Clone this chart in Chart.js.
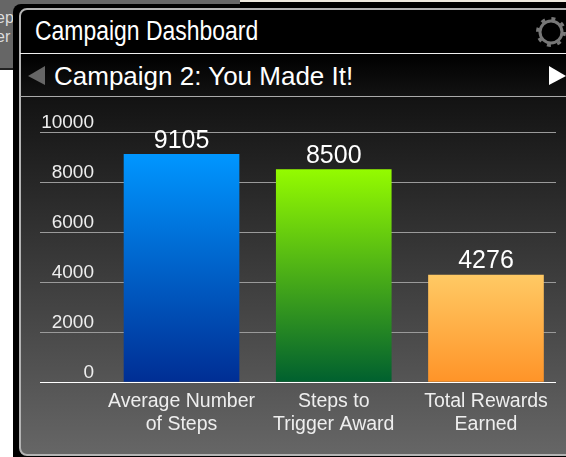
<!DOCTYPE html>
<html>
<head>
<meta charset="utf-8">
<style>
  html, body { margin: 0; padding: 0; background: #fff; }
  #page { position: relative; width: 566px; height: 457px; overflow: hidden; font-family: "Liberation Sans", sans-serif; color: #fff; }
  #page div, #page svg, #page canvas { position: absolute; }
  #backPanel { left: 0; top: 0; width: 240px; height: 68px; background: #666; border-bottom: 2px solid #222; }
  #backPanel span { position: absolute; left: -4px; font-size: 16px; color: #ddd; }
  #topStrip { left: 240px; top: 0; width: 326px; height: 8px; background: #000; border-top: 2px solid #f0ebe0; box-sizing: border-box; }
  #frame { left: 13px; top: 4px; width: 560px; height: 460px; background: #000; border-radius: 8px 0 0 0; }
  #panel { left: 19px; top: 8px; width: 560px; height: 448px; border: 2px solid #b4b4b4; border-radius: 8px; box-sizing: border-box; overflow: hidden;
    background: linear-gradient(#000 0, #000 44px, #131313 88px, #666 100%); }
  #titleBar { left: 20px; top: 53px; width: 546px; height: 1px; background: #eee; }
  #subBar { left: 20px; top: 96px; width: 546px; height: 1px; background: #aaa; }
  #title { left: 35px; top: 15px; font-size: 27px; line-height: 32px; white-space: nowrap; transform: scaleX(0.85); transform-origin: left center; }
  #subtitle { left: 54px; top: 59px; font-size: 26px; line-height: 34px; white-space: nowrap; }
</style>
</head>
<body>
<div id="page">
  <div id="backPanel"><span style="top:9px">ep</span><span style="top:28px">er</span></div>
  <div id="topStrip"></div>
  <div id="frame"></div>
  <div id="panel"></div>
  <div id="title">Campaign Dashboard</div>
  <div id="titleBar"></div>
  <div id="subtitle">Campaign 2: You Made It!</div>
  <div id="subBar"></div>
  <svg style="left:0;top:0" width="566" height="457">
    <polygon points="28,76 45,66 45,85" fill="#666"/>
    <polygon points="549,66 566,76 549,85" fill="#fff"/>
    <g stroke="#777" fill="none">
      <circle cx="551" cy="32" r="11" stroke-width="3"/>
      <circle cx="551" cy="32" r="13.5" stroke-width="3" stroke-dasharray="4 6.6"/>
    </g>
  </svg>
  <canvas id="myChart" width="566" height="457" style="left:0;top:0"></canvas>
</div>
<script src="https://cdn.jsdelivr.net/npm/chart.js@4"></script>
<script>
const categories = [['Average Number', 'of Steps'], ['Steps to', 'Trigger Award'], ['Total Rewards', 'Earned']];
const values = [9105, 8500, 4276];
const topColors = ['#0096ff', '#94fb00', '#ffc964'];
const bottomColors = ['#002e94', '#00602f', '#ff9428'];
const yTicks = [0, 2000, 4000, 6000, 8000, 10000];

// bar gradient runs from the top of each bar down to the axis
const barFill = (context) => {
  const chart = context.chart;
  const i = context.dataIndex;
  if (!chart.chartArea) {
    return topColors[i];
  }
  const yScale = chart.scales.y;
  const g = chart.ctx.createLinearGradient(0, yScale.getPixelForValue(values[i]), 0, yScale.getPixelForValue(0));
  g.addColorStop(0, topColors[i]);
  g.addColorStop(1, bottomColors[i]);
  return g;
};

const valueLabels = {
  id: 'valueLabels',
  afterDatasetsDraw(chart) {
    const ctx = chart.ctx;
    ctx.save();
    ctx.fillStyle = '#fff';
    ctx.font = '25px "Liberation Sans"';
    ctx.textAlign = 'center';
    ctx.textBaseline = 'bottom';
    chart.getDatasetMeta(0).data.forEach((bar, i) => {
      ctx.fillText(values[i], bar.x, bar.y - 1);
    });
    ctx.restore();
  }
};

const gridColor = (context) => (context.tick && context.tick.value === 0 ? '#fff' : '#9a9a9a');

new Chart(document.getElementById('myChart'), {
  type: 'bar',
  data: {
    datasets: [{
      data: values.map((v, i) => ({ x: i, y: v })),
      backgroundColor: barFill,
      barThickness: 115,
      borderWidth: 0
    }]
  },
  options: {
    responsive: false,
    animation: false,
    layout: { padding: { left: 40, right: 10, top: 132, bottom: 0 } },
    plugins: { legend: { display: false }, tooltip: { enabled: false } },
    scales: {
      x: {
        type: 'linear',
        offset: false,
        min: -0.575,
        max: 2.46,
        afterFit: (scale) => { scale.height = 75; },
        grid: { display: false },
        border: { display: false },
        ticks: {
          stepSize: 1,
          includeBounds: false,
          maxRotation: 0,
          autoSkip: false,
          color: '#eee',
          padding: 0,
          font: { family: 'Liberation Sans', size: 19.5, lineHeight: 1.18 },
          callback: (v) => categories[v]
        }
      },
      y: {
        min: 0,
        max: 10000,
        afterFit: (scale) => { scale.width = 54; },
        afterBuildTicks: (scale) => { scale.ticks = yTicks.map((v) => ({ value: v })); },
        border: { display: false },
        grid: { color: gridColor, tickColor: gridColor, lineWidth: 1, tickLength: 54 },
        ticks: {
          color: '#eee',
          padding: -54,
          labelOffset: -9,
          font: { family: 'Liberation Sans', size: 19 },
          callback: (v) => String(v)
        }
      }
    }
  },
  plugins: [valueLabels]
});
</script>
</body>
</html>
